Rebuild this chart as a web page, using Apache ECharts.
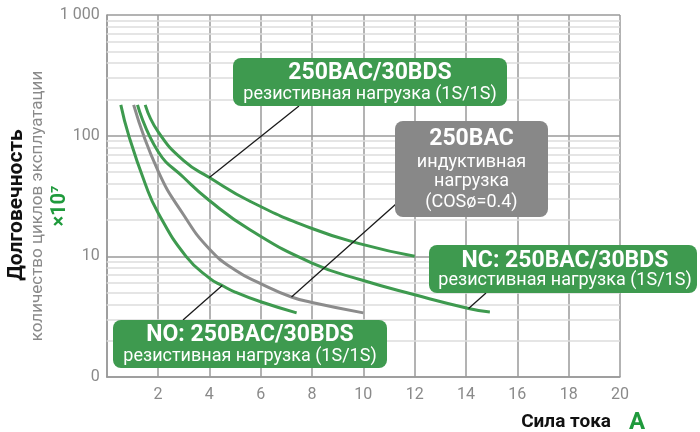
<!DOCTYPE html>
<html>
<head>
<meta charset="utf-8">
<script src="https://cdn.jsdelivr.net/npm/echarts@6.0.0/dist/echarts.min.js"></script>
<style>
  html, body { margin: 0; padding: 0; background: #fff; }
  #chart { width: 700px; height: 432px; }
</style>
</head>
<body>
<div id="chart"></div>
<script>
// curves: x = current (A), y = life (x10^7 cycles)
var noX  = [0.55, 0.86, 1.5, 2, 3.09, 4, 4.5, 5, 6, 7.4];
var noY  = [180, 100, 40, 23, 10, 6.6, 5.73, 5.06, 4.2, 3.4];
var indX = [1.05, 2, 3, 4, 5, 6, 7.2, 8, 10];
var indY = [180, 51, 22, 11.5, 7.7, 5.95, 4.6, 4.15, 3.4];
var ncX  = [1.2, 2, 3, 4, 5.58, 8, 10, 12, 14.1, 14.93];
var ncY  = [180, 74, 45, 29, 16.6, 8.8, 6.3, 4.8, 3.7, 3.45];
var resX = [1.5, 2, 3, 4, 5.58, 8, 10, 12];
var resY = [180, 108, 62, 45, 28.6, 17, 12.5, 10];

var yTickLabels = { 1: '0', 10: '10', 100: '100', 1000: '1 000' };
var minorY = [2, 3, 4, 5, 6, 7, 8, 9, 20, 30, 40, 50, 60, 70, 80, 90,
              200, 300, 400, 500, 600, 700, 800, 900];

var GREEN = '#3e9a4f';
var GREY = '#8a8a8a';
var FONT = 'Roboto, "DejaVu Sans", sans-serif';

function pts(xs, ys) {
  return xs.map(function (x, i) { return [x, ys[i]]; });
}

function curve(name, xs, ys, color) {
  return {
    name: name,
    type: 'line',
    data: pts(xs, ys),
    smooth: 0.5,
    symbol: 'none',
    z: 3,
    lineStyle: { color: color, width: 3 }
  };
}

var chart = echarts.init(document.getElementById('chart'));
chart.setOption({
  animation: false,
  grid: { left: 106.7, right: 80, top: 15, bottom: 55 },
  xAxis: {
    type: 'value',
    min: 0,
    max: 20,
    interval: 2,
    axisLine: { onZero: false, lineStyle: { color: '#999', width: 1.5 } },
    axisTick: { show: false },
    axisLabel: {
      color: GREY, fontSize: 16, fontFamily: FONT, margin: 10,
      formatter: function (v) { return v === 0 ? '' : String(v); }
    },
    splitLine: { show: true, lineStyle: { color: '#9a9a9a', width: 1.5 } }
  },
  yAxis: {
    type: 'log',
    logBase: 10,
    min: 1,
    max: 1000,
    axisLine: { show: true, lineStyle: { color: '#999', width: 1.5 } },
    axisTick: { show: false },
    axisLabel: {
      color: GREY, fontSize: 16, fontFamily: FONT, margin: 7,
      formatter: function (v) { return yTickLabels[Math.round(v)] || ''; }
    },
    splitLine: { show: true, lineStyle: { color: '#9a9a9a', width: 1.5 } }
  },
  series: [
    {
      type: 'line',
      data: [],
      z: 1,
      silent: true,
      markLine: {
        z: 1,
        silent: true,
        symbol: 'none',
        animation: false,
        label: { show: false },
        lineStyle: { color: '#dcdcdc', width: 1.5, type: 'solid' },
        data: minorY.map(function (v) { return { yAxis: v }; })
      }
    },
    curve('NO', noX, noY, GREEN),
    curve('250BAC', indX, indY, '#8c8c8c'),
    curve('NC', ncX, ncY, GREEN),
    curve('250BAC/30BDS', resX, resY, GREEN)
  ]
});

function px(p) { return chart.convertToPixel({ gridIndex: 0 }, p); }

function leader(x1, y1, p) {
  var e = px(p);
  return {
    type: 'line', z: 10,
    shape: { x1: x1, y1: y1, x2: e[0], y2: e[1] },
    style: { stroke: '#1a1a1a', lineWidth: 1.3 }
  };
}

function box(x, y, w, h, fill) {
  return {
    type: 'rect', z: 11,
    shape: { x: x, y: y, width: w, height: h, r: 8 },
    style: { fill: fill }
  };
}

function label(x, y, text, size, bold, color) {
  return {
    type: 'text', z: 12, x: x, y: y,
    style: {
      text: text, fill: color || '#fff',
      font: (bold ? 'bold ' : '') + size + 'px ' + FONT,
      textAlign: 'center', textVerticalAlign: 'middle'
    }
  };
}

function vlabel(x, y, text, size, bold, color) {
  var t = label(x, y, text, size, bold, color);
  t.rotation = Math.PI / 2;
  return t;
}

chart.setOption({
  graphic: [
    leader(299, 106, [4, 45]),
    leader(396, 204, [7.2, 4.6]),
    leader(486, 293, [14.1, 3.7]),
    leader(183, 320, [4.5, 5.73]),

    box(233, 58, 274, 48, GREEN),
    label(370, 73, '250BAC/30BDS', 23, true),
    label(370, 94, 'резистивная нагрузка (1S/1S)', 18, false),

    box(395, 121, 153, 96, '#888888'),
    label(471.5, 139, '250BAC', 23, true),
    label(471.5, 162, 'индуктивная', 18, false),
    label(471.5, 181, 'нагрузка', 18, false),
    label(471.5, 202, '(COSø=0.4)', 18, false),

    box(429, 245, 268, 48, GREEN),
    label(565, 261, 'NC: 250BAC/30BDS', 23, true),
    label(565, 280, 'резистивная нагрузка (1S/1S)', 18, false),

    box(113, 320, 274, 48, GREEN),
    label(250, 335, 'NO: 250BAC/30BDS', 23, true),
    label(250, 356, 'резистивная нагрузка (1S/1S)', 18, false),

    vlabel(17, 205, 'Долговечность', 21, true, '#111'),
    vlabel(38, 206, 'количество циклов эксплуатации', 17, false, GREY),
    vlabel(60, 206, '×10⁷', 20, true, '#1f9a3c'),

    {
      type: 'text', z: 12, x: 611, y: 422,
      style: { text: 'Сила тока', fill: '#111', font: 'bold 19px ' + FONT,
               textAlign: 'right', textVerticalAlign: 'middle' }
    },
    {
      type: 'text', z: 12, x: 637, y: 423,
      style: { text: 'A', fill: '#1f9a3c', font: 'bold 24px ' + FONT,
               textAlign: 'center', textVerticalAlign: 'middle' }
    }
  ]
});
</script>
</body>
</html>
